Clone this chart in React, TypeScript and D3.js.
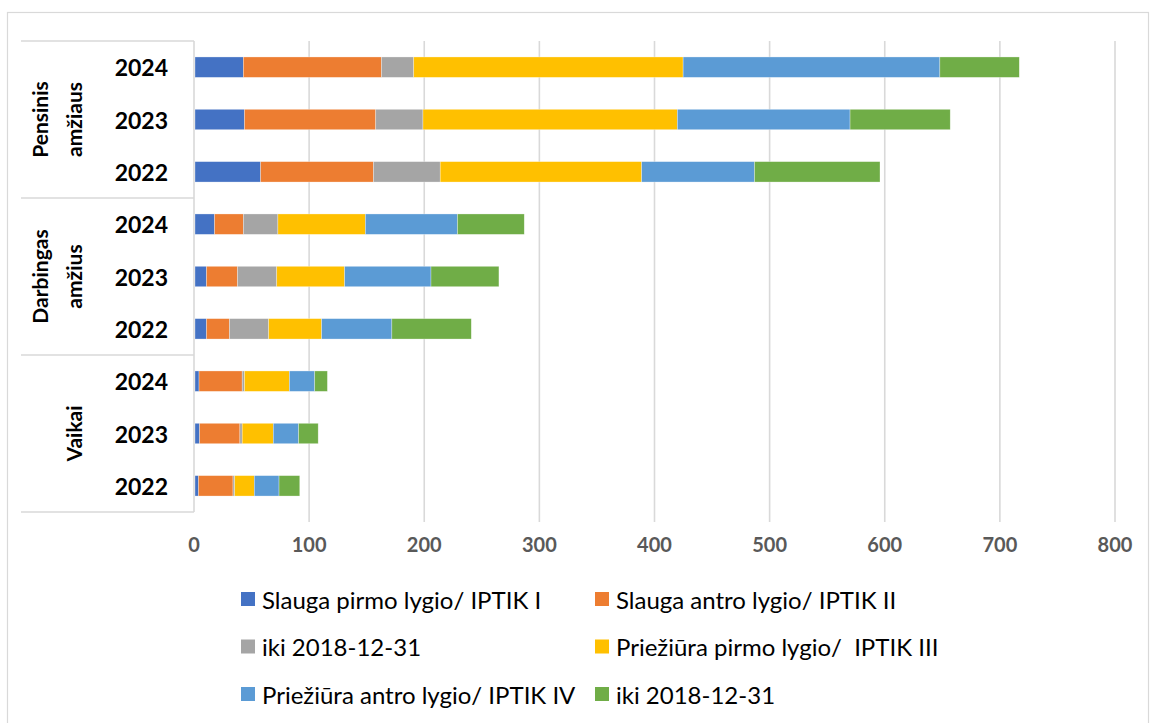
import React from "react";
import * as d3 from "d3";

// rows top to bottom: group / year
const groups = [["Pensinis", "amžiaus"], ["Darbingas", "amžius"], ["Vaikai"]];
const years = ["2024", "2023", "2022"];
const xTicks = [0, 100, 200, 300, 400, 500, 600, 700, 800];

const seriesNames = [
  "Slauga pirmo lygio/ IPTIK I",
  "Slauga antro lygio/ IPTIK II",
  "iki 2018-12-31",
  "Priežiūra pirmo lygio/  IPTIK III",
  "Priežiūra antro lygio/ IPTIK IV",
  "iki 2018-12-31",
];
const colors = ["#4472C4", "#ED7D31", "#A5A5A5", "#FFC000", "#5B9BD5", "#70AD47"];

const slaugaI = [42, 43, 57, 17, 10, 10, 3.5, 4, 3];
const slaugaII = [120, 114, 98, 25, 27, 20, 37.5, 35, 30];
const iki1 = [28, 41, 58, 30, 34, 34, 2, 2, 1.5];
const prieziuraIII = [234, 221, 175, 76, 59, 46, 39, 27, 17];
const prieziuraIV = [223, 150, 98, 80, 75, 61, 22, 22, 21.5];
const iki2 = [69, 87, 109, 58, 59, 69, 11, 17, 18];

const allSeries = [slaugaI, slaugaII, iki1, prieziuraIII, prieziuraIV, iki2];

const W = 1150;
const H = 723;
const FONT = "Lato, 'Open Sans', sans-serif";

export default function App() {
  const rows = groups.flatMap((g, gi) => years.map((y) => `${gi}-${y}`));
  const table = rows.map((r, i) => {
    const o: any = { row: r };
    allSeries.forEach((s, k) => (o["s" + k] = s[i]));
    return o;
  });
  const keys = allSeries.map((_, k) => "s" + k);
  const stacked = d3.stack().keys(keys)(table);

  const x = d3.scaleLinear().domain([0, 800]).range([194, 1115]);
  const y = d3.scaleBand().domain(rows).range([41, 512]).paddingInner(0.61).paddingOuter(0.305);
  const step = y.step();
  const top = 41;
  const labelLeft = 21;

  return (
    <svg width={W} height={H} style={{ position: "absolute", left: 0, top: 0, background: "#fff" }} fontFamily={FONT}>
      <rect x={7.5} y={12.5} width={1141} height={720} fill="#fff" stroke="#d9d9d9" strokeWidth={1.2} />

      {/* gridlines */}
      {xTicks.map((t) => (
        <line key={t} x1={x(t)} x2={x(t)} y1={top} y2={t === 0 ? 512 : 522} stroke="#d9d9d9" strokeWidth={1.6} />
      ))}

      {/* category table lines */}
      {[0, 1, 2, 3].map((i) => (
        <line key={i} x1={labelLeft} x2={194} y1={top + i * 3 * step} y2={top + i * 3 * step} stroke="#d9d9d9" strokeWidth={1.6} />
      ))}

      {/* bars */}
      {stacked.map((layer, k) => (
        <g key={k} fill={colors[k]}>
          {layer.map((d, i) => (
            <rect
              key={i}
              x={x(d[0]) + 1}
              y={y(rows[i])}
              width={Math.max(0, x(d[1]) - x(d[0]))}
              height={y.bandwidth()}
              stroke="#ffffff"
              strokeOpacity={0.5}
              strokeWidth={0.6}
            />
          ))}
        </g>
      ))}

      {/* year labels */}
      {rows.map((r) => (
        <text
          key={r}
          x={168}
          y={(y(r) as number) + y.bandwidth() / 2}
          textAnchor="end"
          dominantBaseline="central"
          fontWeight="bold"
          fontSize={23}
          fill="#000"
        >
          {r.split("-")[1]}
        </text>
      ))}

      {/* group labels */}
      {groups.map((g, gi) => {
        const cy = top + (gi * 3 + 1.5) * step;
        const bases = g.length === 2 ? [48, 82] : [82];
        return g.map((line, li) => (
          <text
            key={gi + "-" + li}
            transform={`translate(${bases[li]},${cy}) rotate(-90)`}
            textAnchor="middle"
            fontWeight="bold"
            fontSize={21}
            fill="#000"
          >
            {line}
          </text>
        ));
      })}

      {/* x tick labels */}
      {xTicks.map((t) => (
        <text key={t} x={x(t)} y={544} textAnchor="middle" dominantBaseline="central" fontWeight="bold" fontSize={20} fill="#595959">
          {t}
        </text>
      ))}

      {/* legend */}
      {seriesNames.map((n, k) => {
        const col = k % 2;
        const row = Math.floor(k / 2);
        const lx = col === 0 ? 241 : 595;
        const ly = 599 + row * 47.5;
        return (
          <g key={k}>
            <rect x={lx} y={ly - 7} width={14} height={14} fill={colors[k]} />
            <text x={lx + 21} y={ly} dominantBaseline="central" fontSize={24} fill="#000" style={{ whiteSpace: "pre" }}>
              {n}
            </text>
          </g>
        );
      })}
    </svg>
  );
}
